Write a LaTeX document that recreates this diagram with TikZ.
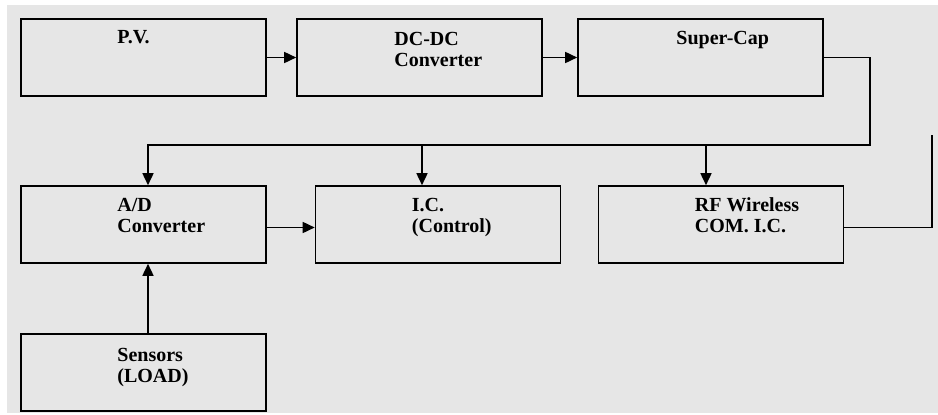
\documentclass[tikz,border=0pt]{standalone}
\usepackage{fontspec}
\setmainfont{Liberation Serif}
\usetikzlibrary{arrows.meta}
\definecolor{bggray}{RGB}{230,230,230}
\tikzset{
  block/.style={draw, line width=1.6pt, minimum width=245pt, minimum height=77pt, inner sep=0pt},
  blocktext/.style={anchor=base west, align=left, inner sep=0pt, font=\fontsize{20}{21}\selectfont\bfseries},
  wire/.style={line width=1.6pt},
  link/.style={wire, -{Triangle[length=12pt,width=11pt]}}
}
\begin{document}
\begin{tikzpicture}[x=1pt, y=-1pt]
  % 背景
  \useasboundingbox (0,0) rectangle (938,415);
  \fill[bggray] (7,5) rectangle (938,413);

  % 上排方框
  \node[block] (pv) at (143.5,57.5) {};
  \node[block] (dcdc) at (419.5,57.5) {};
  \node[block] (scap) at (700.5,57.5) {};

  % 中排方框
  \node[block] (adc) at (143.5,224.5) {};
  \node[block] (ic) at (438,224.5) {};
  \node[block] (rf) at (721,224.5) {};

  % 下排方框
  \node[block] (sens) at (143.5,372.5) {};

  % 文字 (两行时基线在第二行)
  \node[blocktext] (pvtext) at ([shift={(97pt,-25pt)}]pv.north west) {P.V.};
  \node[blocktext] (dcdctext) at ([shift={(98pt,-48pt)}]dcdc.north west) {DC-DC\\Converter};
  \node[blocktext] (scaptext) at ([shift={(99pt,-26pt)}]scap.north west) {Super-Cap};
  \node[blocktext] (adctext) at ([shift={(97pt,-47pt)}]adc.north west) {A/D\\Converter};
  \node[blocktext] (ictext) at ([shift={(97pt,-47pt)}]ic.north west) {I.C.\\(Control)};
  \node[blocktext] (rftext) at ([shift={(97pt,-47pt)}]rf.north west) {RF Wireless\\COM. I.C.};
  \node[blocktext] (senstext) at ([shift={(97pt,-49pt)}]sens.north west) {Sensors\\(LOAD)};

  % 上排连线
  \draw[link] (pv.east) -- (dcdc.west);
  \draw[link] (dcdc.east) -- (scap.west);

  % 供电总线
  \coordinate (bus) at (870,145);
  \coordinate (adcin) at ([xshift=4.5pt]adc.north);
  \coordinate (icin) at ([xshift=-16pt]ic.north);
  \coordinate (rfin) at ([xshift=-15pt]rf.north);
  \draw[link] (scap.east) -| (bus) -| (adcin);
  \draw[link] (icin |- bus) -- (icin);
  \draw[link] (rfin |- bus) -- (rfin);

  % 信号
  \draw[link] ([yshift=-3pt]adc.east) -- ([yshift=-3pt]ic.west);
  \draw[link] (adcin |- sens.north) -- (adcin |- adc.south);

  % 天线引线
  \coordinate (rfend) at (932,135);
  \draw[wire] ([yshift=-3pt]rf.east) -| (rfend);
\end{tikzpicture}
\end{document}
